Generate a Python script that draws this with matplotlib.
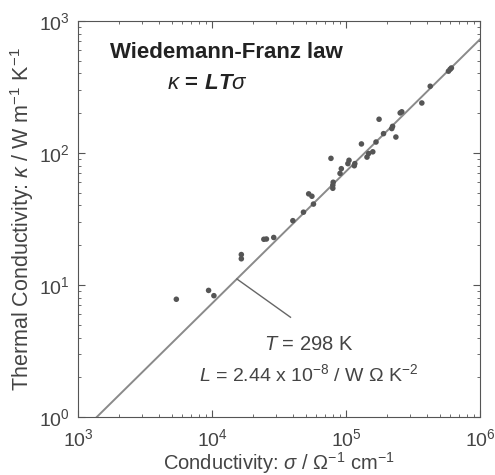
import numpy as np
import matplotlib
matplotlib.use("Agg")
import matplotlib.pyplot as plt

plt.rcParams['font.family'] = ['Liberation Sans', 'DejaVu Sans']
plt.rcParams['mathtext.fontset'] = 'custom'
plt.rcParams['mathtext.rm'] = 'Liberation Sans'
plt.rcParams['mathtext.it'] = 'Liberation Sans:italic'
plt.rcParams['mathtext.bf'] = 'Liberation Sans:bold'
try:
    plt.rcParams['mathtext.bfit'] = 'Liberation Sans:italic:bold'
    lt_str = r'\mathbfit{LT}'
except KeyError:
    lt_str = r'\mathbf{LT}'

# measured samples (sigma in ohm^-1 cm^-1, kappa in W m^-1 K^-1)
sigma = [5.4e3, 9.4e3, 1.03e4, 1.65e4, 1.65e4, 2.43e4, 2.54e4, 2.88e4, 4.0e4, 4.8e4,
         5.25e4, 5.55e4, 5.7e4, 7.7e4, 7.95e4, 7.95e4, 8.0e4, 9.0e4, 9.2e4, 1.03e5,
         1.05e5, 1.15e5, 1.16e5, 1.30e5, 1.43e5, 1.47e5, 1.58e5, 1.67e5, 1.76e5, 1.90e5,
         2.19e5, 2.22e5, 2.35e5, 2.53e5, 2.6e5, 3.67e5, 4.24e5, 5.8e5, 5.97e5, 6.1e5]
kappa = [7.8, 9.1, 8.3, 17.0, 15.8, 22.2, 22.3, 22.9, 30.7, 35.6,
         49, 47, 41, 91, 57, 54, 60, 70, 76, 83,
         88, 80, 83, 117, 93, 99, 102, 121, 180, 140,
         153, 159, 132, 201, 205, 239, 320, 416, 430, 440]

T = 298
L = 2.44e-8
# kappa = L*T*sigma, sigma converted from S/cm to S/m
sig_line = np.array([1e3, 1e6])
kap_line = L * T * sig_line * 100

fig = plt.figure(figsize=(4.95, 4.75), dpi=100)
ax = fig.add_axes([0.158, 0.122, 0.812, 0.834])

ax.plot(sig_line, kap_line, color='#8a8a8a', lw=1.4, zorder=2)
ax.scatter(sigma, kappa, s=16, color='#555555', zorder=3, edgecolors='none')

ax.set_xscale('log')
ax.set_yscale('log')
ax.set_xlim(1e3, 1e6)
ax.set_ylim(1e0, 1e3)

ax.tick_params(which='both', direction='in', top=True, right=True, colors='#555555',
               labelcolor='#444444', labelsize=14)
ax.tick_params(which='major', length=5)
ax.tick_params(which='minor', length=2.5)
ax.tick_params(axis='x', pad=8)
ax.tick_params(axis='y', pad=6)
for s in ax.spines.values():
    s.set_color('#555555')

ax.set_xlabel(r'Conductivity: $\sigma$ / $\Omega^{-1}$ cm$^{-1}$', fontsize=14.5, color='#444444', labelpad=0)
ax.set_ylabel(r'Thermal Conductivity: $\kappa$ / W m$^{-1}$ K$^{-1}$', fontsize=15.5, color='#444444', labelpad=2)

ax.text(0.078, 0.92, 'Wiedemann-Franz law', transform=ax.transAxes, fontsize=16,
        fontweight='bold', color='#222222', va='center')
ax.text(0.22, 0.843, r'$\kappa\,\mathbf{=}\,' + lt_str + r'\sigma$', transform=ax.transAxes, fontsize=16,
        color='#222222', va='center')

# leader from the line to the label
ax.plot([1.53e4, 3.84e4], [11.1, 5.7], color='#666666', lw=1.0, zorder=2)
ax.text(5.3e4, 3.55, r'$T$ = 298 K', fontsize=14.5, color='#444444', ha='center', va='center')
ax.text(5.3e4, 2.1, r'$L$ = 2.44 x 10$^{-8}$ / W $\Omega$ K$^{-2}$', fontsize=14,
        color='#444444', ha='center', va='center')

fig.savefig('out.png', dpi=100, facecolor='white')
